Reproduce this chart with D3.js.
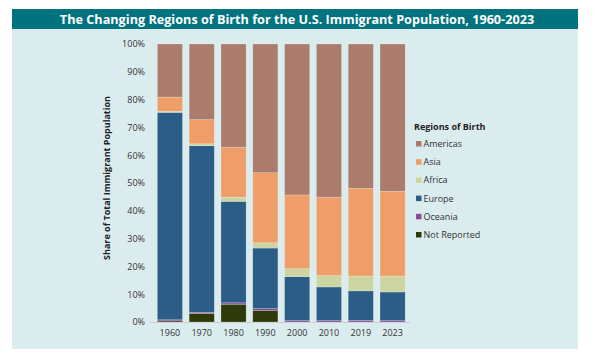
<!DOCTYPE html>
<html><head><meta charset="utf-8">
<script src="https://cdn.jsdelivr.net/npm/d3@7"></script>
<style>html,body{margin:0;padding:0;background:#fff;}svg{display:block;}</style>
</head><body>
<script>
const years = ["1960","1970","1980","1990","2000","2010","2019","2023"];
const regions = ["Not Reported","Oceania","Europe","Africa","Asia","Americas"];
const notReported = [0.4, 3.1, 6.4, 4.2, 0.0, 0.0, 0.0, 0.0];
const oceania     = [0.4, 0.4, 0.5, 0.6, 0.5, 0.5, 0.6, 0.5];
const europe      = [74.6, 59.9, 36.5, 21.8, 15.8, 12.1, 10.6, 10.3];
const africa      = [0.4, 0.7, 1.5, 1.9, 2.9, 4.1, 5.3, 5.7];
const asia        = [5.1, 8.7, 18.0, 25.2, 26.5, 28.2, 31.6, 30.5];
const americas    = [19.1, 27.2, 37.1, 46.3, 54.3, 55.1, 51.9, 53.0];
const yTicks = [0,10,20,30,40,50,60,70,80,90,100];
const legendOrder = ["Americas","Asia","Africa","Europe","Oceania","Not Reported"];
const colors = {"Americas":"#ab7c6b","Asia":"#ef9e69","Africa":"#ccd4a2","Europe":"#2b5d87","Oceania":"#8b4c9c","Not Reported":"#2e3a09"};

const seriesVals = {"Not Reported":notReported,"Oceania":oceania,"Europe":europe,"Africa":africa,"Asia":asia,"Americas":americas};
const table = years.map((y,i)=>{const o={year:y}; regions.forEach(r=>o[r]=seriesVals[r][i]); return o;});

const W=597,H=359;
const svg=d3.select("body").append("svg").attr("width",W).attr("height",H);
const font="'Open Sans', 'Noto Sans', sans-serif";

// panel
svg.append("rect").attr("x",12).attr("y",29).attr("width",566).attr("height",320).attr("fill","#dbecee");
svg.append("rect").attr("x",12).attr("y",9).attr("width",566).attr("height",20).attr("fill","#01737f");
const title=svg.append("text").attr("x",297).attr("y",23.5).attr("text-anchor","middle")
  .attr("fill","#fff").attr("font-family",font).attr("font-weight","bold").attr("font-size",13)
  .text("The Changing Regions of Birth for the U.S. Immigrant Population, 1960-2023");
const tl=title.node().getComputedTextLength();
if(tl>0) title.attr("font-size",13*475/tl);

const x=d3.scaleBand().domain(years).range([154,408.5]).paddingInner(0.21).paddingOuter(0.105);
const y=d3.scaleLinear().domain([0,100]).range([322,44]);

const stack=d3.stack().keys(regions)(table);

svg.append("line").attr("x1",150).attr("x2",410).attr("y1",y(0)+0.5).attr("y2",y(0)+0.5).attr("stroke","#c9cfd0").attr("stroke-width",1);

svg.append("g").selectAll("g").data(stack).join("g").attr("fill",d=>colors[d.key])
  .selectAll("rect").data(d=>d).join("rect")
  .attr("x",d=>x(d.data.year)).attr("width",x.bandwidth())
  .attr("y",d=>y(d[1])).attr("height",d=>Math.max(0,y(d[0])-y(d[1])))
  .attr("stroke","rgba(255,255,255,0.35)").attr("stroke-width",0.6);

// y axis
const ya=svg.append("g").attr("transform","translate(145,0)")
  .call(d3.axisLeft(y).tickValues(yTicks).tickFormat(d=>d+"%").tickSize(0).tickPadding(0));
ya.select(".domain").remove();
ya.selectAll("text").attr("font-family",font).attr("font-size",9).attr("fill","#333");

// x axis
const xa=svg.append("g").attr("transform",`translate(0,${y(0)})`)
  .call(d3.axisBottom(x).tickSize(0).tickPadding(8));
xa.select(".domain").remove();
xa.selectAll("text").attr("font-family",font).attr("font-size",9).attr("fill","#333");

svg.append("text").attr("transform","translate(110,178) rotate(-90)").attr("text-anchor","middle")
  .attr("font-family",font).attr("font-weight","bold").attr("font-size",9).attr("fill","#222")
  .text("Share of Total Immigrant Population");

// legend
svg.append("text").attr("x",414).attr("y",130).attr("font-family",font).attr("font-weight","bold")
  .attr("font-size",9).attr("fill","#222").text("Regions of Birth");
const lg=svg.append("g").selectAll("g").data(legendOrder).join("g")
  .attr("transform",(d,i)=>`translate(416,${143.7+i*18.2})`);
lg.append("rect").attr("x",0).attr("y",-2.7).attr("width",5.5).attr("height",5.5).attr("fill",d=>colors[d]);
lg.append("text").attr("x",7.5).attr("y",3.2).attr("font-family",font).attr("font-size",9).attr("fill","#333").text(d=>d);
</script>
</body></html>
